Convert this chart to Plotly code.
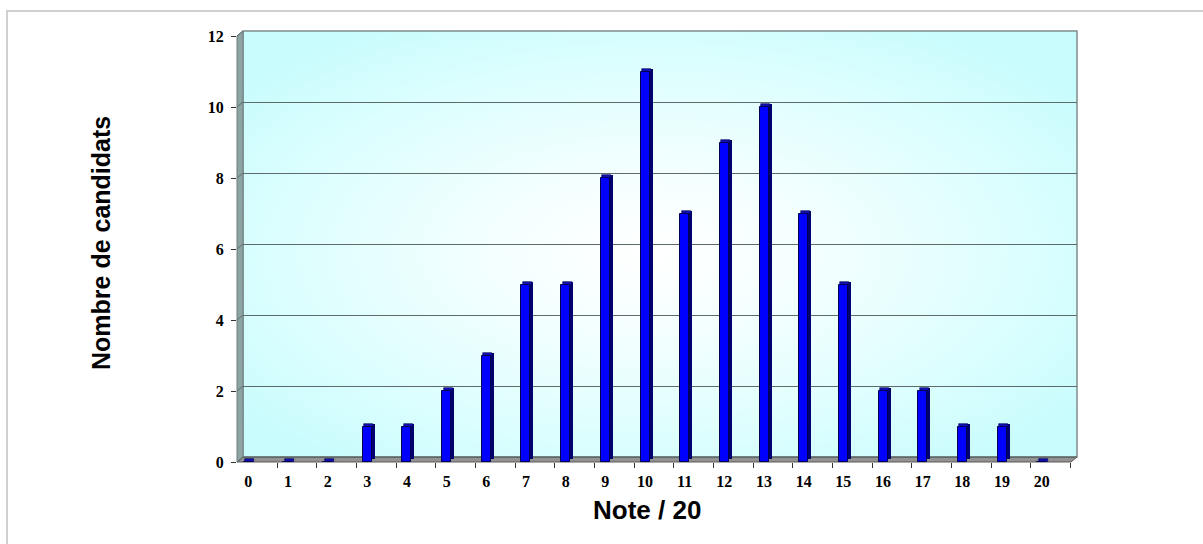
import base64
import plotly.graph_objects as go

# ---------------- data ----------------
notes = list(range(21))
note_labels = [str(n) for n in notes]
candidats = [0, 0, 0, 1, 1, 2, 3, 5, 5, 8, 11, 7, 9, 10, 7, 5, 2, 2, 1, 1, 0]
y_ticks = [0, 2, 4, 6, 8, 10, 12]
y_tick_labels = [str(v) for v in y_ticks]
x_title = "Note / 20"
y_title = "Nombre de candidats"

# ---------------- geometry (pixels) ----------------
W, H = 1203, 544
L, R, T, B = 237, 1077, 31, 462      # plot area (front floor bottom .. wall top)
PW, PH = R - L, B - T
CAT = 39.67                           # px per category
FIRST = 248.3                         # px of category 0 centre
DX, DY = 6, 5                         # depth offset of back wall
YPX = 35.5                            # px per unit on value axis


def pxp(x):
    return (x - L) / PW


def pyp(y):
    return (B - y) / PH


xr = [(L - FIRST) / CAT, (R - FIRST) / CAT]
yr_front = [0, PH / YPX]
yr_back = [-DY / YPX, PH / YPX - DY / YPX]

bw = 9 / CAT
boff = -bw / 2
sx = 3 / CAT
sy = 3 / YPX

# gradient back wall as svg image
svg = (
    "<svg xmlns='http://www.w3.org/2000/svg' width='834' height='426' "
    "viewBox='0 0 834 426' preserveAspectRatio='none'>"
    "<defs><radialGradient id='g' cx='0.49' cy='0.52' r='0.64'>"
    "<stop offset='0' stop-color='#ffffff'/>"
    "<stop offset='0.3' stop-color='#f4ffff'/>"
    "<stop offset='0.7' stop-color='#dcfefe'/>"
    "<stop offset='1' stop-color='#c8fcfd'/>"
    "</radialGradient></defs>"
    "<rect width='834' height='426' fill='url(#g)'/></svg>"
)
svg_uri = "data:image/svg+xml;base64," + base64.b64encode(svg.encode()).decode()

fig = go.Figure()

# side (dark) face
fig.add_trace(go.Bar(
    x=notes, y=candidats, base=sy, width=bw, offset=boff + sx,
    marker=dict(color="#00006e", line=dict(width=0)),
    hoverinfo="skip", showlegend=False,
))
# top face
fig.add_trace(go.Bar(
    x=notes, y=[sy] * len(notes), base=candidats, width=bw, offset=boff + sx / 2,
    marker=dict(color="#1010b0", line=dict(width=0.6, color="#000055")),
    hoverinfo="skip", showlegend=False,
))
# front face
fig.add_trace(go.Bar(
    x=notes, y=candidats, width=bw, offset=boff,
    marker=dict(color="#0000ff", line=dict(width=1, color="#000050")),
    name="candidats", showlegend=False,
))
# invisible trace to activate the back (grid) axis
fig.add_trace(go.Scatter(x=[notes[0]], y=[0], yaxis="y2", mode="markers",
                         marker=dict(opacity=0), hoverinfo="skip", showlegend=False))

tick_font = dict(family="Liberation Serif, Times New Roman, serif", size=16,
                 color="#000000", weight="bold")

fig.update_layout(
    width=W, height=H, autosize=False,
    margin=dict(l=L, r=W - R, t=T, b=H - B, pad=0),
    paper_bgcolor="#ffffff", plot_bgcolor="rgba(0,0,0,0)",
    barmode="overlay", bargap=0,
    xaxis=dict(
        range=xr, tickmode="array", tickvals=notes, ticktext=note_labels,
        ticks="", showgrid=False, zeroline=False, showline=False,
        tickfont=tick_font, ticklabelstandoff=8,
        minor=dict(tickmode="array", tickvals=[n + 0.7235 for n in notes],
                   ticks="outside", ticklen=5, tickcolor="#333333", tickwidth=1,
                   showgrid=False),
        fixedrange=True,
    ),
    yaxis=dict(
        range=yr_front, tickmode="array", tickvals=y_ticks, ticktext=y_tick_labels,
        ticks="outside", ticklen=5, tickcolor="#333333", tickwidth=1,
        showgrid=False, zeroline=False, showline=False,
        tickfont=tick_font, ticklabelstandoff=4, fixedrange=True,
    ),
    yaxis2=dict(
        range=yr_back, overlaying="y", side="left", anchor="x",
        tickmode="array", tickvals=y_ticks, showticklabels=False, ticks="",
        showgrid=True, gridcolor="#5d6b6b", gridwidth=1, zeroline=False,
        showline=False, fixedrange=True,
    ),
    images=[dict(
        source=svg_uri, xref="paper", yref="paper",
        x=pxp(L + DX), y=pyp(T), sizex=pxp(R) - pxp(L + DX), sizey=pyp(T) - pyp(B - DY),
        xanchor="left", yanchor="top", sizing="stretch", layer="below",
    )],
)

shapes = []
# outer chart border
shapes.append(dict(type="rect", xref="paper", yref="paper",
                   x0=pxp(7), y0=pyp(11), x1=pxp(W + 20), y1=pyp(H + 20),
                   line=dict(color="#d0d0d0", width=2), fillcolor="rgba(0,0,0,0)",
                   layer="below"))
# back wall outline
shapes.append(dict(type="rect", xref="paper", yref="paper",
                   x0=pxp(L + DX), y0=pyp(B - DY), x1=pxp(R), y1=pyp(T),
                   line=dict(color="#7d8c8c", width=1.5), fillcolor="rgba(0,0,0,0)",
                   layer="below"))
# floor
floor_path = "M {} {} L {} {} L {} {} L {} {} Z".format(
    pxp(L), pyp(B), pxp(L + DX), pyp(B - DY), pxp(R), pyp(B - DY), pxp(R - DX), pyp(B))
shapes.append(dict(type="path", xref="paper", yref="paper", path=floor_path,
                   fillcolor="#929292", line=dict(color="#5a5a5a", width=1), layer="below"))
# left wall
wall_path = "M {} {} L {} {} L {} {} L {} {} Z".format(
    pxp(L), pyp(T + DY), pxp(L + DX), pyp(T), pxp(L + DX), pyp(B - DY), pxp(L), pyp(B))
shapes.append(dict(type="path", xref="paper", yref="paper", path=wall_path,
                   fillcolor="#8ea3a3", line=dict(color="#6c7e7e", width=1), layer="above"))
# slanted grid segments on the left wall
for v in y_ticks:
    shapes.append(dict(type="line", xref="paper", yref="y",
                       x0=pxp(L), y0=v, x1=pxp(L + DX), y1=v + DY / YPX,
                       line=dict(color="#5d6b6b", width=1), layer="above"))
fig.update_layout(shapes=shapes)

fig.add_annotation(text="<b>" + x_title + "</b>", xref="paper", yref="paper",
                   x=pxp(647), y=pyp(510), showarrow=False,
                   font=dict(family="Liberation Sans, Arial, sans-serif", size=26, color="#000000"),
                   xanchor="center", yanchor="middle")
fig.add_annotation(text="<b>" + y_title + "</b>", xref="paper", yref="paper",
                   x=pxp(101), y=pyp(243), showarrow=False,
                   font=dict(family="Liberation Sans, Arial, sans-serif", size=25, color="#000000"),
                   textangle=-90, xanchor="center", yanchor="middle")

fig.write_html("out.html")
